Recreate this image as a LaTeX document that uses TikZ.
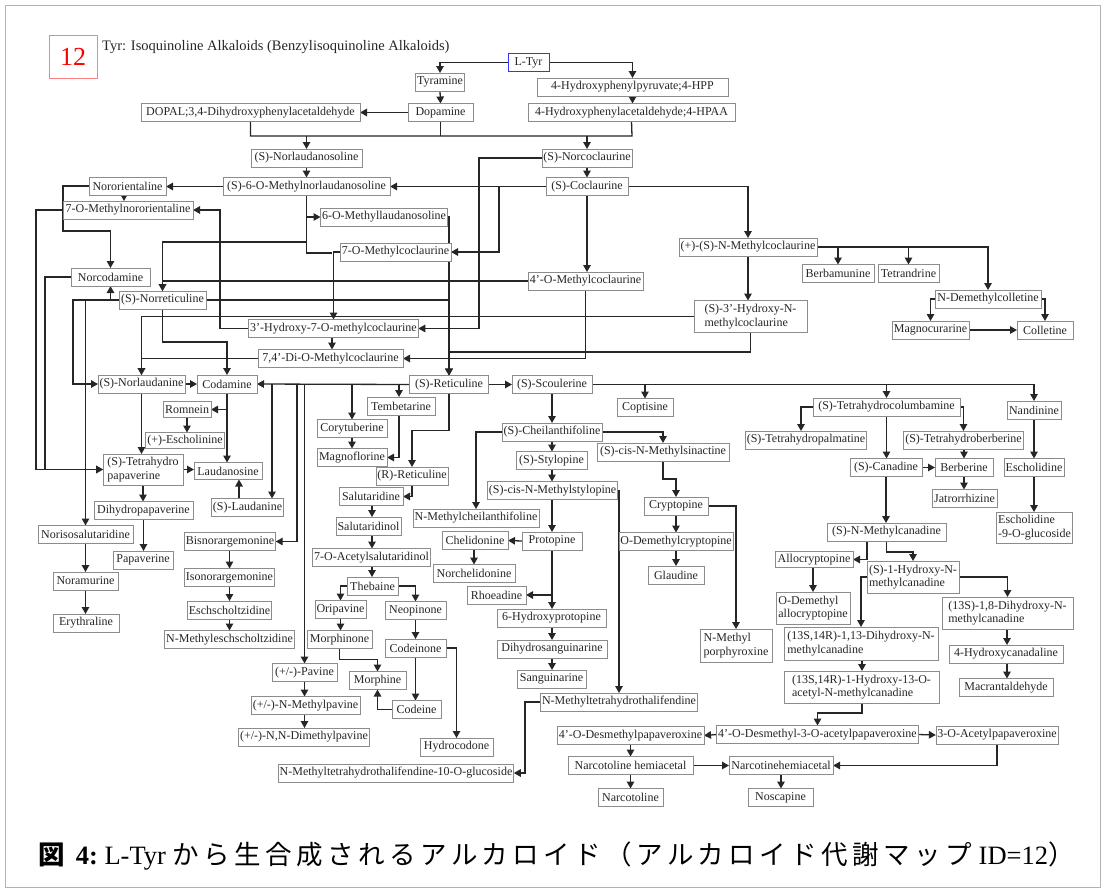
\documentclass[tikz,border=0pt]{standalone}
\usepackage{fontspec}
\setmainfont{Liberation Serif}
\newfontfamily\cjk[LetterSpace=17]{Noto Sans CJK JP}
\usetikzlibrary{arrows.meta,backgrounds}
\begin{document}
\begin{tikzpicture}[x=1pt,y=-1pt,
  bx/.style={draw=black!45, line width=0.7pt, fill=white, inner sep=1.5pt, outer sep=0pt,
    minimum height=18pt, font=\fontsize{12}{13.5}\selectfont, text=black!85},
  bx2/.style={bx, align=left, minimum height=32pt},
  ln/.style={draw=black!85, line width=1.3pt},
  ar/.style={ln, -{Triangle[length=7pt,width=7.5pt]}}]
\useasboundingbox (0,0) rectangle (1105,892);
\draw[black!30, line width=0.8pt] (5,5) rectangle (1100,887);

% header
\node[draw=red!50, line width=0.8pt, minimum width=48pt, minimum height=43pt, text=red,
  font=\fontsize{26}{28}\selectfont] (num) at (73,56.5) {12};
\node[anchor=west, inner sep=0pt, font=\fontsize{14.5}{16}\selectfont, text=black!85] (title) at (102,47)
  {Tyr: Isoquinoline Alkaloids (Benzylisoquinoline Alkaloids)};

% nodes
\node[bx,minimum width=41pt,draw=blue!80,line width=0.9pt] (ltyr) at (528.5,62.5) {L-Tyr};
\node[bx,minimum width=48pt] (tyr) at (440,82) {Tyramine};
\node[bx,minimum width=65pt] (dop) at (440.5,112.5) {Dopamine};
\node[bx,minimum width=219pt] (dopal) at (250.5,112.5) {DOPAL;3,4-Dihydroxyphenylacetaldehyde};
\node[bx,minimum width=191pt] (hpp) at (632.5,87) {4-Hydroxyphenylpyruvate;4-HPP};
\node[bx,minimum width=207pt] (hpaa) at (631.5,112.5) {4-Hydroxyphenylacetaldehyde;4-HPAA};
\node[bx,minimum width=111pt] (nlds) at (306.5,158) {(S)-Norlaudanosoline};
\node[bx,minimum width=167pt] (mnlds) at (306.5,186.5) {(S)-6-O-Methylnorlaudanosoline};
\node[bx,minimum width=90pt] (ncoc) at (587,158) {(S)-Norcoclaurine};
\node[bx,minimum width=82pt] (coc) at (587,186.5) {(S)-Coclaurine};
\node[bx,minimum width=77pt] (noror) at (127.5,186) {Nororientaline};
\node[bx,minimum width=130pt] (mnoror) at (128,210) {7-O-Methylnororientaline};
\node[bx,minimum width=126pt] (moml) at (384,217) {6-O-Methyllaudanosoline};
\node[bx,minimum width=111pt] (omc7) at (395.5,252) {7-O-Methylcoclaurine};
\node[bx,minimum width=138pt] (nmc) at (748,247) {(+)-(S)-N-Methylcoclaurine};
\node[bx,minimum width=115pt] (omc4) at (585.5,281) {4’-O-Methylcoclaurine};
\node[bx,minimum width=72pt] (berb) at (838,273.5) {Berbamunine};
\node[bx,minimum width=61pt] (tetr) at (908.5,273.5) {Tetrandrine};
\node[bx,minimum width=79pt] (ncodam) at (110.5,277) {Norcodamine};
\node[bx,minimum width=87pt] (nret) at (162.5,300) {(S)-Norreticuline};
\node[bx,minimum width=167pt] (hmc3) at (333.5,328.5) {3’-Hydroxy-7-O-methylcoclaurine};
\node[bx,minimum width=145pt] (dimc) at (330.5,358.5) {7,4’-Di-O-Methylcoclaurine};
\node[bx2,minimum width=113pt] (hnmc) at (750.5,316.5) {(S)-3’-Hydroxy-N-\\methylcoclaurine};
\node[bx,minimum width=106pt] (ndc) at (988,299) {N-Demethylcolletine};
\node[bx,minimum width=77pt] (magc) at (930.5,330) {Magnocurarine};
\node[bx,minimum width=56pt] (coll) at (1045,330) {Colletine};
\node[bx,minimum width=83pt] (nlaud) at (141.5,384) {(S)-Norlaudanine};
\node[bx,minimum width=60pt] (codam) at (227,384) {Codamine};
\node[bx,minimum width=79pt] (ret) at (449,384.5) {(S)-Reticuline};
\node[bx,minimum width=80pt] (scoul) at (552,384.5) {(S)-Scoulerine};
\node[bx,minimum width=48pt,minimum height=16pt] (romn) at (187,409.5) {Romnein};
\node[bx,minimum width=74pt,minimum height=16pt] (esch) at (185,440.5) {(+)-Escholinine};
\node[bx2,minimum width=80pt,minimum height=31pt] (thp) at (143,469.5) {(S)-Tetrahydro\\papaverine};
\node[bx,minimum width=68pt,minimum height=17pt] (laudo) at (228,471) {Laudanosine};
\node[bx,minimum width=71pt] (slaud) at (247.5,507.5) {(S)-Laudanine};
\node[bx,minimum width=99pt] (dhp) at (143.5,510.5) {Dihydropapaverine};
\node[bx,minimum width=95pt] (nisos) at (85.5,534.5) {Norisosalutaridine};
\node[bx,minimum width=90pt] (bisn) at (230,541.5) {Bisnorargemonine};
\node[bx,minimum width=60pt] (papa) at (143,560) {Papaverine};
\node[bx,minimum width=65pt] (noram) at (85.5,581) {Noramurine};
\node[bx,minimum width=66pt] (eryt) at (86,623) {Erythraline};
\node[bx,minimum width=89pt] (isonor) at (229.5,577.5) {Isonorargemonine};
\node[bx,minimum width=83pt] (eschz) at (229.5,610) {Eschscholtzidine};
\node[bx,minimum width=125pt] (nmesch) at (229.5,639.5) {N-Methyleschscholtzidine};
\node[bx,minimum width=65pt] (pav) at (304.5,672.5) {(+/-)-Pavine};
\node[bx,minimum width=109pt] (nmpav) at (305.5,705.5) {(+/-)-N-Methylpavine};
\node[bx,minimum width=130pt] (nnpav) at (304,737) {(+/-)-N,N-Dimethylpavine};
\node[bx,minimum width=228pt] (nmthg) at (396,773) {N-Methyltetrahydrothalifendine-10-O-glucoside};
\node[bx,minimum width=68pt] (temb) at (401,406) {Tembetarine};
\node[bx,minimum width=70pt] (coryt) at (352,428.5) {Corytuberine};
\node[bx,minimum width=70pt] (magn) at (352,457.5) {Magnoflorine};
\node[bx,minimum width=70pt] (rret) at (412,476) {(R)-Reticuline};
\node[bx,minimum width=64pt] (salu) at (371,496.5) {Salutaridine};
\node[bx,minimum width=61pt] (saluol) at (368.5,526) {Salutaridinol};
\node[bx,minimum width=115pt] (acsal) at (371.5,557.5) {7-O-Acetylsalutaridinol};
\node[bx,minimum width=51pt] (theb) at (372.5,586) {Thebaine};
\node[bx,minimum width=51pt] (orip) at (340.5,609.5) {Oripavine};
\node[bx,minimum width=61pt] (neop) at (415.5,610.5) {Neopinone};
\node[bx,minimum width=65pt] (morone) at (339.5,639.5) {Morphinone};
\node[bx,minimum width=61pt] (codone) at (415.5,648) {Codeinone};
\node[bx,minimum width=57pt] (morph) at (377.5,680.5) {Morphine};
\node[bx,minimum width=49pt] (code) at (416.5,709.5) {Codeine};
\node[bx,minimum width=73pt] (hcod) at (456.5,747) {Hydrocodone};
\node[bx,minimum width=100pt] (chei) at (552,432) {(S)-Cheilanthifoline};
\node[bx,minimum width=71pt] (styl) at (551.5,460.5) {(S)-Stylopine};
\node[bx,minimum width=129pt] (nmsty) at (552.5,490.5) {(S)-cis-N-Methylstylopine};
\node[bx,minimum width=126pt] (nmchei) at (476,518) {N-Methylcheilanthifoline};
\node[bx,minimum width=66pt] (cheli) at (475,540.5) {Chelidonine};
\node[bx,minimum width=60pt] (prot) at (552,541) {Protopine};
\node[bx,minimum width=82pt] (norch) at (474,573.5) {Norchelidonine};
\node[bx,minimum width=59pt] (rhoe) at (496.5,595) {Rhoeadine};
\node[bx,minimum width=109pt] (hprot) at (551.5,618) {6-Hydroxyprotopine};
\node[bx,minimum width=110pt] (dhsang) at (552,649) {Dihydrosanguinarine};
\node[bx,minimum width=69pt] (sang) at (551.5,679) {Sanguinarine};
\node[bx,minimum width=154pt] (nmtt) at (619,702) {N-Methyltetrahydrothalifendine};
\node[bx,minimum width=56pt] (copt) at (645,407.5) {Coptisine};
\node[bx,minimum width=132pt] (nmsin) at (663,452) {(S)-cis-N-Methylsinactine};
\node[bx,minimum width=64pt] (crypt) at (676,506) {Cryptopine};
\node[bx,minimum width=112pt] (odcrypt) at (676,541.5) {O-Demethylcryptopine};
\node[bx,minimum width=56pt] (glau) at (676,575) {Glaudine};
\node[bx2,minimum width=72pt,minimum height=33pt] (nmpor) at (736,645.5) {N-Methyl\\porphyroxine};
\node[bx,minimum width=118pt] (thpalm) at (806,440) {(S)-Tetrahydropalmatine};
\node[bx,minimum width=147pt] (thcol) at (886.5,407) {(S)-Tetrahydrocolumbamine};
\node[bx,minimum width=119pt] (thber) at (963.5,440) {(S)-Tetrahydroberberine};
\node[bx,minimum width=54pt] (nand) at (1034,410) {Nandinine};
\node[bx,minimum width=72pt] (cana) at (886,467.5) {(S)-Canadine};
\node[bx,minimum width=58pt] (berbe) at (964,467.5) {Berberine};
\node[bx,minimum width=65pt] (jatr) at (964.5,498.5) {Jatrorrhizine};
\node[bx,minimum width=60pt] (escd) at (1034,467.5) {Escholidine};
\node[bx2,minimum width=75pt,minimum height=31pt] (escg) at (1034.5,527.5) {Escholidine\\-9-O-glucoside};
\node[bx,minimum width=119pt] (nmcan) at (886.5,532) {(S)-N-Methylcanadine};
\node[bx,minimum width=78pt,minimum height=16pt] (allo) at (814,559.5) {Allocryptopine};
\node[bx2,minimum width=74pt] (odallo) at (813,608) {O-Demethyl\\allocryptopine};
\node[bx2,minimum width=92pt] (hnmcan) at (913,577) {(S)-1-Hydroxy-N-\\methylcanadine};
\node[bx2,minimum width=131pt] (dhnm) at (1007.5,613) {(13S)-1,8-Dihydroxy-N-\\methylcanadine};
\node[bx2,minimum width=154pt,minimum height=33pt] (dh1314) at (861,643.5) {(13S,14R)-1,13-Dihydroxy-N-\\methylcanadine};
\node[bx2,minimum width=155pt] (ac1314) at (861.5,687) {(13S,14R)-1-Hydroxy-13-O-\\acetyl-N-methylcanadine};
\node[bx,minimum width=114pt] (hcanad) at (1006,654) {4-Hydroxycanadaline};
\node[bx,minimum width=94pt] (macr) at (1006,687.5) {Macrantaldehyde};
\node[bx,minimum width=199pt] (dap3) at (817.5,734.5) {4’-O-Desmethyl-3-O-acetylpapaveroxine};
\node[bx,minimum width=122pt] (ap3) at (997,735) {3-O-Acetylpapaveroxine};
\node[bx,minimum width=147pt] (dpap) at (630.5,735.5) {4’-O-Desmethylpapaveroxine};
\node[bx,minimum width=125pt] (nhemi) at (630.5,765.5) {Narcotoline hemiacetal};
\node[bx,minimum width=104pt] (nthemi) at (781,765.5) {Narcotinehemiacetal};
\node[bx,minimum width=65pt] (narc) at (630.5,797.5) {Narcotoline};
\node[bx,minimum width=65pt] (nosc) at (780.5,797.5) {Noscapine};

% caption
\node[anchor=west, inner sep=0pt, text=black] (cap) at (38,856)
  {\fontsize{26.5}{30}\selectfont{\cjk\bfseries 図}\textbf{\ 4:}\ L-Tyr\ {\cjk から生合成されるアルカロイド（アルカロイド代謝マップ}\ ID=12{\cjk ）}};

\begin{scope}[on background layer]
% top
\draw[ar] (ltyr.west) -| (tyr.north);
\draw[ar] (ltyr.east) -| (hpp.north);
\draw[ar] (tyr.south) -- (dop.north);
\draw[ar] (hpp.south) -- (hpp.south |- hpaa.north);
\draw[ar] (dop.west) -- (dopal.east);
\draw[ln] (dopal.south) |- (632,136) -- (hpaa.south);
\draw[ln] (dop.south) -- (dop.south |- 0,136);
\draw[ar] (nlds.north |- 0,136) -- (nlds.north);
\draw[ar] (ncoc.north |- 0,136) -- (ncoc.north);
\draw[ar] (nlds.south) -- (mnlds.north);
\draw[ar] (ncoc.south) -- (coc.north);
\draw[ar] (mnlds.west) -- (mnlds.west -| noror.east);
\draw[ar] (noror.south -| 124,0) -- (mnoror.north -| 124,0);
\draw[ar] (noror.west) -- (63,186) |- (ncodam.north |- 0,231) -- (ncodam.north);
\draw[ar] (hmc3.west) -- (220,328.5) |- (mnoror.east);
\draw[ar] (mnoror.west) -- (36,210) |- (thp.west);
\draw[ar] (ncodam.west) -- (45,277) |- (thp.west);
\draw[ln] (mnlds.south) -- (306.5,253) -- (332,253);
\draw[ar] (mnlds.south |- moml.west) -- (moml.west);
\draw[ar] (mnlds.south |- 0,242) -| (nret.north);
\draw[ar] (omc7.west) -| (hmc3.north);
\draw[ar] (coc.west) -- (mnlds.east);
\draw[ar] (499,186.5) |- (omc7.east);
\draw[ar] (ncoc.west) -- (479,158) |- (hmc3.east);
\draw[ar] (moml.east) -- (449,217) -- (ret.north);
\draw[ar] (coc.east) -| (nmc.north);
\draw[ar] (coc.south) -- (coc.south |- omc4.north);
\draw[ar] (omc4.west) -| (nret.north);
\draw[ar] (omc4.south) |- (dimc.east);
\draw[ar] (nret.west) -| (ncodam.south);
\draw[ar] (nret.west) -- (73,300) |- (nlaud.west);
\draw[ar] (nret.west) -| (nisos.north);
\draw[ar] (nret.east) -| (ret.north);
\draw[ar] (nret.south) -- (162.5,342) -| (codam.north);
\draw[ar] (hnmc.west) -| (nlaud.north);
\draw[ar] (dimc.west) -| (nlaud.north);
\draw[ar] (hmc3.south -| 332,0) -- (dimc.north -| 332,0);
\draw[ar] (hnmc.south) |- (449,352) -- (ret.north);
\draw[ar] (nmc.south) -- (nmc.south |- hnmc.north);
% N-methylcoclaurine branch
\draw[ln] (nmc.east) -- (988,247);
\draw[ar] (berb.north |- 0,247) -- (berb.north);
\draw[ar] (tetr.north |- 0,247) -- (tetr.north);
\draw[ar] (nmc.east) -| (ndc.north);
\draw[ar] (ndc.west) -| (magc.north);
\draw[ar] (ndc.east) -| (coll.north);
\draw[ar] (magc.east) -- (coll.west);
% left middle
\draw[ar] (nlaud.east) -- (codam.west);
\draw[ar] (ret.west) -- (codam.east);
\draw[ar] (272,384) -- (slaud.north -| 272,0);
\draw[ar] (297,384) |- (bisn.east);
\draw[ar] (pav.north |- 0,384) -- (pav.north);
\draw[ar] (coryt.north |- 0,384) -- (coryt.north);
\draw[ar] (399,384) -- (temb.north -| 399,0);
\draw[ar] (codam.south) -- (codam.south |- laudo.north);
\draw[ar] (227,409.5) -- (romn.east);
\draw[ar] (romn.south) -- (romn.south |- esch.north);
\draw[ar] (nlaud.south) -- (nlaud.south |- thp.north);
\draw[ar] (thp.east) -- (thp.east -| laudo.west);
\draw[ar] (slaud.north -| 239,0) -- (laudo.south -| 239,0);
\draw[ar] (thp.south) -- (thp.south |- dhp.north);
\draw[ar] (dhp.south) -- (dhp.south |- papa.north);
\draw[ar] (nisos.south) -- (nisos.south |- noram.north);
\draw[ar] (noram.south) -- (noram.south |- eryt.north);
\draw[ar] (bisn.south -| 229.5,0) -- (isonor.north);
\draw[ar] (isonor.south) -- (eschz.north);
\draw[ar] (eschz.south) -- (nmesch.north);
\draw[ar] (pav.south) -- (pav.south |- nmpav.north);
\draw[ar] (nmpav.south -| 304.5,0) -- (nnpav.north -| 304.5,0);
\draw[ar] (temb.south -| 399,0) |- (magn.east);
\draw[ar] (coryt.south) -- (magn.north);
\draw[ar] (ret.south) -- ++(0,37) -| (rret.north);
\draw[ar] (rret.south) |- (salu.east);
\draw[ar] (salu.south -| 372,0) -- (saluol.north -| 372,0);
\draw[ar] (saluol.south -| 372,0) -- (acsal.north -| 372,0);
\draw[ar] (acsal.south -| 372,0) -- (theb.north -| 372,0);
\draw[ar] (theb.west) -| (orip.north);
\draw[ar] (theb.east) -| (neop.north);
\draw[ar] (orip.south) -- (orip.south |- morone.north);
\draw[ar] (neop.south) -- (codone.north);
\draw[ar] (morone.south) -- ++(0,11) -| (morph.north);
\draw[ar] (codone.south) -- (codone.south |- code.north);
\draw[ar] (code.west) -| (morph.south);
\draw[ar] (codone.east) -| (hcod.north);
% scoulerine branch
\draw[ar] (ret.east) -- (scoul.west);
\draw[ar] (scoul.south) -- (chei.north);
\draw[ar] (chei.south -| 552,0) -- (styl.north -| 552,0);
\draw[ar] (styl.south -| 552,0) -- (nmsty.north -| 552,0);
\draw[ar] (nmsty.south -| 552,0) -- (prot.north);
\draw[ar] (chei.west) -| (nmchei.north);
\draw[ar] (prot.west) -- (cheli.east);
\draw[ar] (cheli.south -| 474,0) -- (norch.north);
\draw[ar] (prot.south |- rhoe.east) -- (rhoe.east);
\draw[ar] (prot.south) -- (prot.south |- hprot.north);
\draw[ar] (hprot.south -| 552,0) -- (dhsang.north);
\draw[ar] (dhsang.south) -- (dhsang.south |- sang.north);
\draw[ar] (nmsty.east) -| (nmtt.north);
\draw[ar] (nmtt.west) -- (525,702) |- (nmthg.east);
\draw[ln] (scoul.east) -- (1035,384.5);
\draw[ar] (copt.north |- 0,384.5) -- (copt.north);
\draw[ar] (thcol.north |- 0,384.5) -- (thcol.north);
\draw[ar] (scoul.east) -| (nand.north);
\draw[ar] (chei.east) -| (nmsin.north);
\draw[ar] (nmsin.south) -- ++(0,18) -| (crypt.north);
\draw[ar] (crypt.south) -- (odcrypt.north);
\draw[ar] (odcrypt.south) -- (glau.north);
\draw[ar] (crypt.east) -| (nmpor.north);
\draw[ar] (thcol.west) -- (801,407) -- (thpalm.north -| 801,0);
\draw[ar] (thcol.east) -| (thber.north);
\draw[ar] (thcol.south) -- (thcol.south |- cana.north);
\draw[ar] (cana.east) -- (berbe.west);
\draw[ar] (thber.south -| 964,0) -- (berbe.north);
\draw[ar] (berbe.south) -- (berbe.south |- jatr.north);
\draw[ar] (nand.south) -- (escd.north);
\draw[ar] (escd.south) -- (escd.south |- escg.north);
\draw[ar] (cana.south) -- (cana.south |- nmcan.north);
\draw[ar] (nmcan.south -| 867,0) |- (allo.east);
\draw[ar] (nmcan.south) -- (886.5,552) -| (hnmcan.north);
\draw[ar] (allo.south -| 813,0) -- (odallo.north);
\draw[ar] (hnmcan.east) -| (dhnm.north);
\draw[ar] (hnmcan.west) -| (dh1314.north);
\draw[ar] (dh1314.south -| 862,0) -- (ac1314.north -| 862,0);
\draw[ar] (dhnm.south -| 1007,0) -- (hcanad.north -| 1007,0);
\draw[ar] (hcanad.south -| 1007,0) -- (macr.north -| 1007,0);
\draw[ar] (ac1314.south -| 862,0) -- (862,713) -| (dap3.north);
\draw[ar] (dap3.east) -- (ap3.west);
\draw[ar] (dap3.west) -- (dpap.east);
\draw[ar] (dpap.south) -- (nhemi.north);
\draw[ar] (nhemi.east) -- (nthemi.west);
\draw[ar] (ap3.south) |- (nthemi.east);
\draw[ar] (nhemi.south) -- (narc.north);
\draw[ar] (nthemi.south -| 781,0) -- (nosc.north -| 781,0);
\end{scope}
\end{tikzpicture}
\end{document}
